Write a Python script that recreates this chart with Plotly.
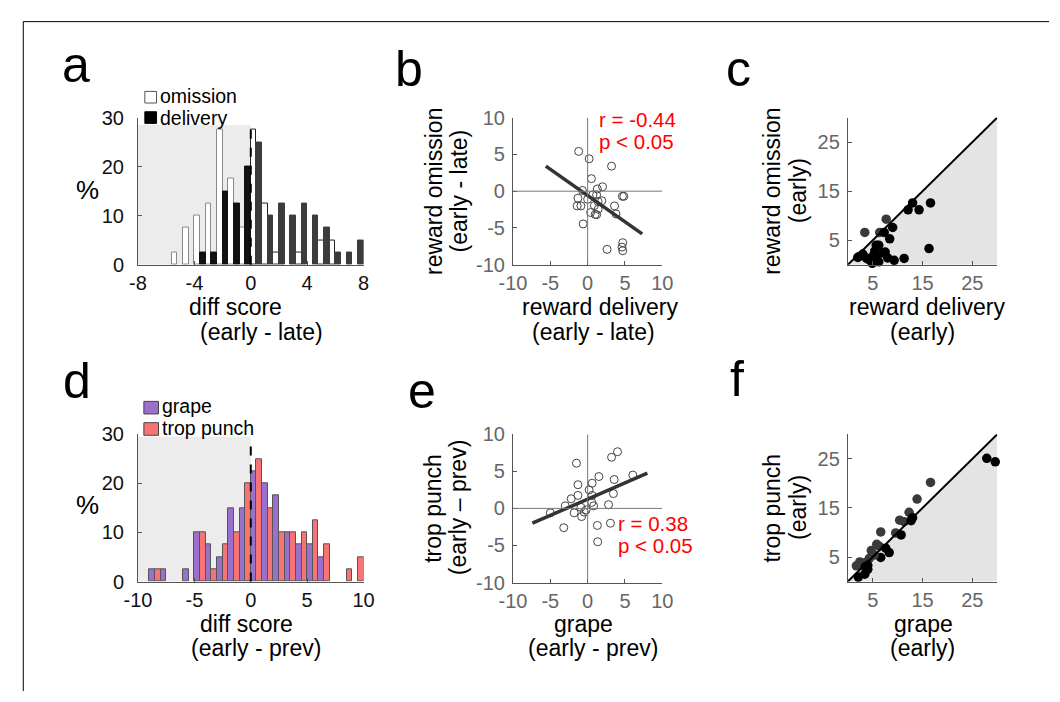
import plotly.graph_objects as go

W, H = 1060, 702
FONT = "Liberation Sans, Arial, sans-serif"

# ---------------- data ----------------
# panel a: histogram of diff score (early - late), bin centers, %
a_centers = [-7.6, -6.8, -6.0, -5.2, -4.4, -3.6, -2.8, -2.0, -1.2, -0.4,
             0.4, 1.2, 2.0, 2.8, 3.6, 4.4, 5.2, 6.0, 6.8, 7.6]
a_omission = [0, 0, 0, 2.5, 7.5, 10, 12.5, 27.5, 17.5, 7.5,
              27.5, 12.5, 2.5, 0, 2.5, 0, 5, 5, 0, 0]
a_delivery = [0, 0, 0, 0, 0, 2.5, 2.5, 15, 12.5, 20,
              25, 10, 12.5, 10, 12.5, 10, 7.5, 2.5, 2.5, 5]

# panel b: reward delivery vs reward omission (early - late)
b_x = [-1.2, 0.2, 3.2, 0.5, 2.0, 1.3, -0.7, -1.3, 0.0, 0.7, 1.2, 1.9, 1.4,
       4.65, 4.85, -1.4, -0.9, 0.9, 3.6, 1.4, 0.4, 1.0, 1.2, 3.8, -0.6,
       4.7, 4.6, 4.7, 2.6]
b_y = [5.4, 4.4, 3.4, 1.7, 0.6, 0.3, 0.1, -0.95, -1.1, -0.5, -0.5, -1.3, -1.4,
       -0.7, -0.7, -2.0, -2.0, -1.95, -2.0, -2.45, -2.9, -3.15, -3.2, -3.1, -4.45,
       -7.0, -7.6, -8.1, -7.9]
b_fit_x = [-5.6, 7.3]
b_fit_y = [3.4, -5.8]

# panel c: reward delivery vs omission (early)
c_x = [3.4, 6.4, 7.3, 7.7, 9.0, 8.4, 12.1, 13.0, 14.3, 16.6, 16.3, 5.7, 6.2,
       5.4, 7.0, 7.5, 3.0, 2.3, 3.7, 4.4, 4.9, 5.1, 5.8, 6.2, 8.0, 9.3, 11.3,
       2.0, 4.0]
c_y = [6.6, 6.6, 6.6, 9.3, 7.6, 5.3, 11.2, 12.6, 11.2, 12.6, 3.3, 4.0, 4.0,
       2.8, 2.4, 2.6, 2.2, 1.7, 1.4, 1.0, 0.3, 1.8, 1.6, 0.6, 1.4, 0.9, 1.3,
       1.5, 1.2]

# panel d: histogram of diff score (early - prev), %
d_centers = [-9.5, -8.5, -7.5, -6.5, -5.5, -4.5, -3.5, -2.5, -1.5, -0.5,
             0.5, 1.5, 2.5, 3.5, 4.5, 5.5, 6.5, 7.5, 8.5, 9.5]
d_grape = [0, 2.5, 2.5, 0, 2.5, 10, 7.5, 5, 15, 15,
           22.5, 20, 17.5, 10, 7.5, 7.5, 5, 0, 0, 0]
d_trop = [0, 2.5, 0, 0, 0, 10, 2.5, 7.5, 10, 20,
          25, 15, 10, 10, 10, 12.5, 7.5, 0, 2.5, 5]

# panel e: grape vs trop punch (early - prev)
e_x = [-1.5, 3.2, 4.0, -1.3, 0.6, 1.5, 3.55, 6.05, -1.3, -2.2, 0.2, 3.45,
       0.6, -3.0, -5.0, -1.8, -0.9, -0.8, -0.2, -0.45, 0.55, 0.8, 2.8,
       -3.2, 1.3, 3.05, 1.35]
e_y = [6.1, 6.9, 7.65, 3.2, 3.4, 4.3, 3.9, 4.5, 1.75, 1.3, 2.5, 2.0,
       1.75, 0.35, -0.6, -0.6, 0.15, -1.1, -0.2, -0.5, 0.8, 0.35, 0.5,
       -2.6, -2.3, -2.0, -4.5]
e_fit_x = [-7.4, 8.0]
e_fit_y = [-2.0, 4.75]

# panel f: grape vs trop punch (early)
f_x = [27.9, 29.6, 16.6, 13.9, 12.3, 13.0, 10.4, 11.3, 12.7, 9.6, 10.7, 6.6,
       5.8, 6.3, 7.6, 8.3, 4.7, 6.6, 4.3, 3.6, 2.4, 1.7, 2.7, 3.5, 4.0, 3.4,
       2.1, 5.3, 4.0]
f_y = [25.1, 24.4, 20.2, 16.8, 14.1, 13.0, 12.5, 12.2, 12.4, 9.9, 9.5, 10.1,
       7.6, 7.2, 6.8, 5.9, 6.3, 4.9, 4.7, 3.9, 4.0, 3.2, 3.5, 3.0, 2.5, 1.5,
       0.9, 5.4, 3.3]

# ---------------- helpers ----------------
def px_x(p):
    return p / W


def px_y(p):
    return 1 - p / H


def nz(v):
    return [x if x else None for x in v]


AX_COL = "#555555"
TICK_COL = "#666666"

fig = go.Figure()

# domains in pixel coords
dom = {
    1: ((127, 358), (110, 262)),
    2: ((511, 664), (110, 262)),
    3: ((854, 1007), (110, 262)),
    4: ((127, 358), (437, 589)),
    5: ((511, 664), (437, 590)),
    6: ((854, 1007), (437, 589)),
}
rng = {
    1: ([-8, 8], [0, 30]),
    2: ([-10, 10], [-10, 10]),
    3: ([0, 30], [0, 30]),
    4: ([-10, 10], [0, 30]),
    5: ([-10, 10], [-10, 10]),
    6: ([0, 30], [0, 30]),
}
ticks = {
    1: ([-8, -4, 0, 4, 8], [0, 10, 20, 30], "#111111", 9),
    2: ([-10, -5, 0, 5, 10], [-10, -5, 0, 5, 10], TICK_COL, 3),
    3: ([5, 15, 25], [5, 15, 25], TICK_COL, 3),
    4: ([-10, -5, 0, 5, 10], [0, 10, 20, 30], "#111111", 9),
    5: ([-10, -5, 0, 5, 10], [-10, -5, 0, 5, 10], TICK_COL, 3),
    6: ([5, 15, 25], [5, 15, 25], TICK_COL, 3),
}

layout_axes = {}
for i in range(1, 7):
    (x0, x1), (y0, y1) = dom[i]
    xr, yr = rng[i]
    xt, yt, tc, ystand = ticks[i]
    sfx = "" if i == 1 else str(i)
    layout_axes["xaxis" + sfx] = dict(
        domain=[px_x(x0), px_x(x1)], range=xr, anchor="y" + sfx,
        showgrid=False, zeroline=False, showline=True, linecolor=AX_COL,
        linewidth=1, ticks="inside", ticklen=4, tickcolor=AX_COL,
        tickvals=xt, ticktext=[str(v) for v in xt],
        tickfont=dict(family=FONT, size=20, color=tc), fixedrange=True)
    layout_axes["yaxis" + sfx] = dict(
        domain=[px_y(y1), px_y(y0)], range=yr, anchor="x" + sfx,
        showgrid=False, zeroline=False, showline=True, linecolor=AX_COL,
        linewidth=1, ticks="inside", ticklen=4, tickcolor=AX_COL,
        tickvals=yt, ticktext=[str(v) for v in yt], ticklabelstandoff=ystand,
        tickfont=dict(family=FONT, size=20, color=tc), fixedrange=True)

shapes = []

# ---------- panel a ----------
shapes.append(dict(type="rect", xref="x", yref="y", x0=-8, x1=0, y0=0, y1=28.5,
                   fillcolor="#ececec", line=dict(width=0), layer="below"))
om_fill = ["white"] * len(a_centers)
om_line = ["#8a8a8a" if c < 0 else "#222222" for c in a_centers]
de_fill = ["#111111" if c < 0 else "#3c3c3c" for c in a_centers]
fig.add_trace(go.Bar(x=a_centers, y=nz(a_omission), width=0.4, offset=-0.4,
                     marker=dict(color=om_fill, line=dict(color=om_line, width=1)),
                     xaxis="x", yaxis="y"))
fig.add_trace(go.Bar(x=a_centers, y=nz(a_delivery), width=0.4, offset=0,
                     marker=dict(color=de_fill, line=dict(color=de_fill, width=1)),
                     xaxis="x", yaxis="y"))
shapes.append(dict(type="line", xref="x", yref="y", x0=0, x1=0, y0=0, y1=28.8,
                   line=dict(color="black", width=2, dash="dash")))

# ---------- panel d ----------
shapes.append(dict(type="rect", xref="x4", yref="y4", x0=-10, x1=0, y0=0, y1=29.5,
                   fillcolor="#ececec", line=dict(width=0), layer="below"))
GRAPE = "#9b70cc"
TROP = "#f77474"
fig.add_trace(go.Bar(x=d_centers, y=nz(d_grape), width=0.5, offset=-0.5,
                     marker=dict(color=GRAPE, line=dict(color="#555555", width=1)),
                     xaxis="x4", yaxis="y4"))
fig.add_trace(go.Bar(x=d_centers, y=nz(d_trop), width=0.5, offset=0,
                     marker=dict(color=TROP, line=dict(color="#555555", width=1)),
                     xaxis="x4", yaxis="y4"))
shapes.append(dict(type="line", xref="x4", yref="y4", x0=0, x1=0, y0=0, y1=29.3,
                   line=dict(color="black", width=2, dash="dash")))

# ---------- panels b / e ----------
for sfx, xs, ys, fx, fy in (("2", b_x, b_y, b_fit_x, b_fit_y),
                            ("5", e_x, e_y, e_fit_x, e_fit_y)):
    shapes.append(dict(type="line", xref="x" + sfx, yref="y" + sfx, x0=-10, x1=10,
                       y0=0, y1=0, line=dict(color="#777777", width=1)))
    shapes.append(dict(type="line", xref="x" + sfx, yref="y" + sfx, x0=0, x1=0,
                       y0=-10, y1=10, line=dict(color="#777777", width=1)))
    fig.add_trace(go.Scatter(x=xs, y=ys, mode="markers",
                             marker=dict(symbol="circle-open", size=8, color="#444444",
                                         line=dict(width=1)),
                             xaxis="x" + sfx, yaxis="y" + sfx))
    fig.add_trace(go.Scatter(x=fx, y=fy, mode="lines",
                             line=dict(color="#333333", width=3.5),
                             xaxis="x" + sfx, yaxis="y" + sfx))

# ---------- panels c / f ----------
for sfx, xs, ys in (("3", c_x, c_y), ("6", f_x, f_y)):
    shapes.append(dict(type="path", xref="x" + sfx, yref="y" + sfx,
                       path="M 0,0 L 30,0 L 30,30 Z", fillcolor="#e4e4e4",
                       line=dict(width=0), layer="below"))
    shapes.append(dict(type="line", xref="x" + sfx, yref="y" + sfx, x0=0, x1=30,
                       y0=0, y1=30, line=dict(color="black", width=2)))
    cols = ["#3a3a3a" if y > x else "#000000" for x, y in zip(xs, ys)]
    fig.add_trace(go.Scatter(x=xs, y=ys, mode="markers",
                             marker=dict(size=9.5, color=cols, line=dict(width=0)),
                             cliponaxis=False,
                             xaxis="x" + sfx, yaxis="y" + sfx))

# ---------- legends (squares) ----------
shapes.append(dict(type="rect", xref="paper", yref="paper", x0=px_x(134), x1=px_x(146),
                   y0=px_y(95), y1=px_y(83), fillcolor="white",
                   line=dict(color="#555555", width=1)))
shapes.append(dict(type="rect", xref="paper", yref="paper", x0=px_x(134), x1=px_x(146),
                   y0=px_y(116), y1=px_y(104), fillcolor="#000000",
                   line=dict(color="#000000", width=1)))
shapes.append(dict(type="rect", xref="paper", yref="paper", x0=px_x(133), x1=px_x(148),
                   y0=px_y(416), y1=px_y(403), fillcolor=GRAPE,
                   line=dict(color="#444444", width=1)))
shapes.append(dict(type="rect", xref="paper", yref="paper", x0=px_x(133), x1=px_x(148),
                   y0=px_y(438), y1=px_y(425), fillcolor=TROP,
                   line=dict(color="#444444", width=1)))

# figure border (left + top)
shapes.append(dict(type="line", xref="paper", yref="paper", x0=px_x(9.5), x1=px_x(9.5),
                   y0=0, y1=px_y(11), line=dict(color="black", width=1)))
shapes.append(dict(type="line", xref="paper", yref="paper", x0=px_x(9.5), x1=1,
                   y0=px_y(11), y1=px_y(11), line=dict(color="black", width=1)))

# ---------- text ----------
ann = []


def txt(s, x, y, size, color="black", xanchor="center", angle=0):
    ann.append(dict(text=s, x=px_x(x), y=px_y(y), xref="paper", yref="paper",
                    showarrow=False, xanchor=xanchor, yanchor="middle",
                    textangle=angle, borderpad=0,
                    font=dict(family=FONT, size=size, color=color)))


# panel letters
txt("a", 63, 56, 50)
txt("b", 405, 60, 50)
txt("c", 742, 60, 50)
txt("d", 65, 382, 50)
txt("e", 418, 392, 50)
txt("f", 740, 380, 50)

# legends text
txt("omission", 148, 88, 19.5, xanchor="left")
txt("delivery", 148, 110, 19.5, xanchor="left")
txt("grape", 151, 408, 19.5, xanchor="left")
txt("trop punch", 151, 430.5, 19.5, xanchor="left")

# % labels
txt("%", 75, 185, 26)
txt("%", 75, 510, 26)

# x titles
TS = 23
txt("diff score", 227, 306, TS)
txt("(early - late)", 253, 331, TS)
txt("reward delivery", 600, 306, TS)
txt("(early - late)", 593, 331, TS)
txt("reward delivery", 935, 306, TS)
txt("(early)", 930, 331, TS)
txt("diff score", 238, 633, TS)
txt("(early - prev)", 248, 658, TS)
txt("grape", 583, 633, TS)
txt("(early - prev)", 593, 658, TS)
txt("grape", 931, 633, TS)
txt("(early)", 930, 658, TS)

# y titles
txt("reward omission", 430, 186, TS, angle=-90)
txt("(early - late)", 456, 186, TS, angle=-90)
txt("reward omission", 776, 186, TS, angle=-90)
txt("(early)", 803, 186, TS, angle=-90)
txt("trop punch", 429, 513, TS, angle=-90)
txt("(early \u2013 prev)", 455, 513, TS, angle=-90)
txt("trop punch", 776, 513, TS, angle=-90)
txt("(early)", 803, 513, TS, angle=-90)

# stats
txt("r = -0.44", 598, 112, 20.5, color="#ff0000", xanchor="left")
txt("p < 0.05", 598, 135, 20.5, color="#ff0000", xanchor="left")
txt("r = 0.38", 618, 529, 20.5, color="#ff0000", xanchor="left")
txt("p < 0.05", 618, 552, 20.5, color="#ff0000", xanchor="left")

fig.update_layout(
    width=W, height=H, margin=dict(l=0, r=0, t=0, b=0),
    paper_bgcolor="white", plot_bgcolor="rgba(0,0,0,0)",
    showlegend=False, barmode="overlay", bargap=0,
    shapes=shapes, annotations=ann, **layout_axes)

fig.write_html("out.html", config=dict(displayModeBar=False),
               post_script="document.body.style.margin='0';"
                           "document.body.style.padding='0';"
                           "document.body.style.overflow='hidden';")
